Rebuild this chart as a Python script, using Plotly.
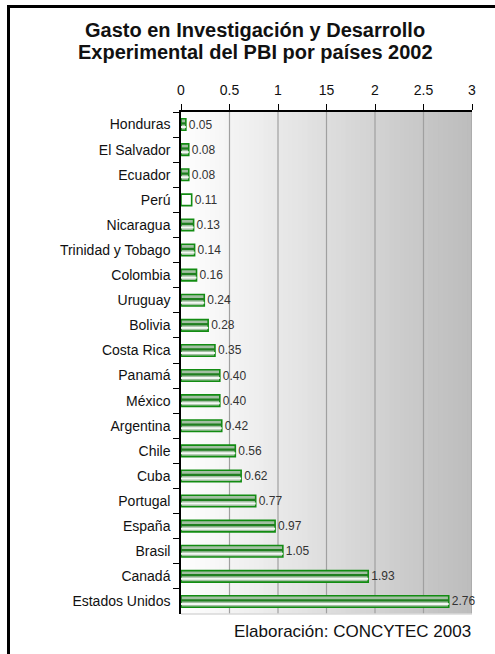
import plotly.graph_objects as go

# R&D expenditure as % of GDP, 2002
paises = [
    "Honduras", "El Salvador", "Ecuador", "Perú", "Nicaragua",
    "Trinidad y Tobago", "Colombia", "Uruguay", "Bolivia", "Costa Rica",
    "Panamá", "México", "Argentina", "Chile", "Cuba", "Portugal",
    "España", "Brasil", "Canadá", "Estados Unidos",
]
gasto = [0.05, 0.08, 0.08, 0.11, 0.13, 0.14, 0.16, 0.24, 0.28, 0.35,
         0.40, 0.40, 0.42, 0.56, 0.62, 0.77, 0.97, 1.05, 1.93, 2.76]

tick_vals = [0, 0.5, 1, 1.5, 2, 2.5, 3]
tick_text = ["0", "0.5", "1", "15", "2", "2.5", "3"]

titulo = ["Gasto en Investigación y Desarrollo",
          "Experimental del PBI por países 2002"]
fuente = "Elaboración: CONCYTEC 2003"

FONT = "Liberation Sans, Arial, sans-serif"
W, H = 495, 654
L, R, T, B = 181, 23, 112, 40
PW, PH = W - L - R, H - T - B

fill = ["#ffffff" if p == "Perú" else "#a3bfa3" for p in paises]
stripe_dark = ["rgba(0,0,0,0)" if p == "Perú" else "#1f7f1f" for p in paises]
stripe_light = ["rgba(0,0,0,0)" if p == "Perú" else "#f4f8f4" for p in paises]

fig = go.Figure()

# main bar body with green outline and value label
fig.add_trace(go.Bar(
    x=gasto, y=paises, orientation="h", width=0.46,
    marker=dict(color=fill, line=dict(color="#128c12", width=1.6)),
    texttemplate="%{x:.2f}", textposition="outside", constraintext="none",
    textfont=dict(family=FONT, size=12, color="#333333"),
    cliponaxis=False, hoverinfo="skip", showlegend=False,
))
# inner highlight stripes giving the cylinder look
fig.add_trace(go.Bar(
    x=gasto, y=paises, orientation="h", width=0.09, offset=-0.09,
    marker=dict(color=stripe_dark, line=dict(width=0)),
    hoverinfo="skip", showlegend=False,
))
fig.add_trace(go.Bar(
    x=gasto, y=paises, orientation="h", width=0.08, offset=0.06,
    marker=dict(color=stripe_light, line=dict(width=0)),
    hoverinfo="skip", showlegend=False,
))

# white-to-grey gradient behind the plot area (strips overlap to avoid seams)
shapes = []
n = 60
for i in range(n):
    x0 = 3 * i / n
    x1 = min(3.0, 3 * (i + 1) / n + 0.02)
    g = int(round(255 - (255 - 188) * (i + 0.5) / n))
    shapes.append(dict(
        type="rect", xref="x", yref="paper", x0=x0, x1=x1, y0=0, y1=1,
        fillcolor=f"rgb({g},{g},{g})", line=dict(width=0), layer="below",
    ))
# vertical grid lines drawn above the gradient
for v in tick_vals[1:]:
    shapes.append(dict(
        type="line", xref="x", yref="paper", x0=v, x1=v, y0=0, y1=1,
        line=dict(color="#a0a0a0", width=1.2), layer="below",
    ))
# bottom edge of the plot area
shapes.append(dict(
    type="line", xref="paper", yref="paper", x0=0, x1=1, y0=0, y1=0,
    line=dict(color="#d8d8d8", width=1.5), layer="below",
))


def px_x(p):
    return (p - L) / PW


def px_y(p):
    return (H - B - p) / PH


# outer frame lines (top and left)
shapes.append(dict(
    type="line", xref="paper", yref="paper",
    x0=px_x(7), x1=px_x(W + 5), y0=px_y(6.5), y1=px_y(6.5),
    line=dict(color="black", width=3),
))
shapes.append(dict(
    type="line", xref="paper", yref="paper",
    x0=px_x(8.5), x1=px_x(8.5), y0=px_y(5), y1=px_y(H + 5),
    line=dict(color="black", width=3),
))

annotations = []
for linea, ypx in zip(titulo, [30, 52]):
    annotations.append(dict(
        text=f"<b>{linea}</b>",
        xref="paper", yref="paper", x=px_x(255), y=px_y(ypx),
        xanchor="center", yanchor="middle", showarrow=False,
        font=dict(family=FONT, size=20, color="#111111"),
    ))
annotations.append(dict(
    text=fuente,
    xref="paper", yref="paper", x=px_x(473), y=px_y(631),
    xanchor="right", yanchor="middle", showarrow=False,
    font=dict(family=FONT, size=17, color="#111111"),
))

fig.update_layout(
    width=W, height=H,
    margin=dict(l=L, r=R, t=T, b=B),
    paper_bgcolor="white", plot_bgcolor="rgba(0,0,0,0)",
    barmode="overlay", bargap=0.5,
    font=dict(family=FONT, color="#111111"),
    shapes=shapes,
    annotations=annotations,
    xaxis=dict(
        side="top", range=[0, 3], tickvals=tick_vals, ticktext=tick_text,
        showgrid=False, zeroline=False,
        showline=True, linecolor="black", linewidth=1.5,
        ticks="outside", ticklen=6, tickcolor="black", tickwidth=1.2,
        tickfont=dict(family=FONT, size=14, color="#111111"),
        ticklabelstandoff=4,
        fixedrange=True,
    ),
    yaxis=dict(
        autorange="reversed", type="category",
        showgrid=False, zeroline=False,
        showline=True, linecolor="black", linewidth=1.5,
        ticks="outside", tickson="boundaries", ticklen=6,
        tickcolor="black", tickwidth=1.2,
        tickfont=dict(family=FONT, size=14, color="#111111"),
        ticklabelstandoff=6,
        fixedrange=True,
    ),
)

fig.write_html("out.html")
